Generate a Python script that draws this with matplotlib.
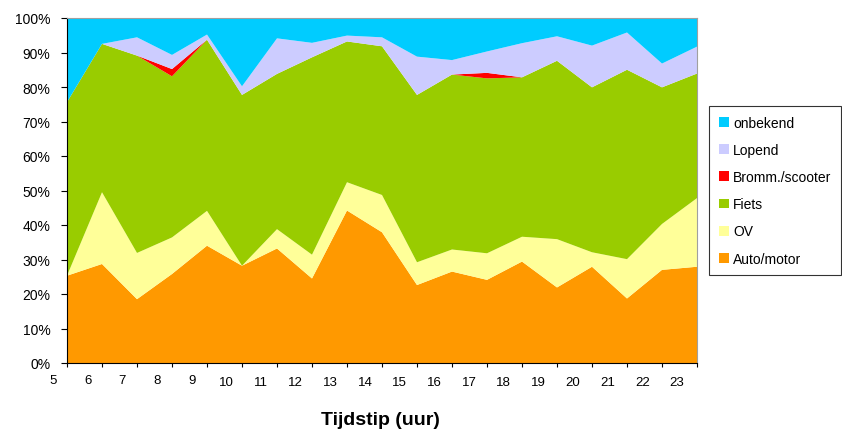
import matplotlib
matplotlib.use("Agg")
import matplotlib.pyplot as plt
import matplotlib.transforms as mtransforms
import numpy as np

plt.rcParams['font.family'] = ['Liberation Sans', 'DejaVu Sans']

hours = [5, 6, 7, 8, 9, 10, 11, 12, 13, 14, 15, 16, 17, 18, 19, 20, 21, 22, 23]
series_names = ["Auto/motor", "OV", "Fiets", "Bromm./scooter", "Lopend", "onbekend"]
auto = [25.3, 28.7, 18.5, 25.8, 34.0, 28.2, 33.2, 24.5, 44.2, 37.9, 22.6, 26.5, 24.1, 29.4, 21.9, 27.9, 18.7, 27.0, 27.9]
ov = [0.0, 20.8, 13.4, 10.6, 10.1, 0.0, 5.6, 6.9, 8.2, 10.8, 6.6, 6.4, 7.7, 7.2, 14.0, 4.2, 11.4, 13.3, 19.9]
fiets = [50.3, 43.0, 57.2, 46.7, 49.6, 49.5, 45.0, 57.2, 40.8, 43.1, 48.5, 50.7, 50.7, 46.2, 51.7, 47.8, 54.9, 39.6, 36.1]
bromm = [0.0, 0.0, 0.0, 2.1, 0.0, 0.0, 0.0, 0.0, 0.0, 0.0, 0.0, 0.0, 1.6, 0.0, 0.0, 0.0, 0.0, 0.0, 0.0]
lopend = [0.0, 0.0, 5.3, 4.1, 1.5, 2.5, 10.3, 4.2, 1.7, 2.6, 11.1, 4.2, 6.2, 9.9, 7.1, 12.1, 10.8, 6.9, 7.8]
onbekend = [24.4, 7.5, 5.6, 10.7, 4.8, 19.8, 5.9, 7.2, 5.1, 5.6, 11.2, 12.2, 9.7, 7.3, 5.3, 8.0, 4.2, 13.2, 8.3]
colors = ["#FF9900", "#FFFF99", "#99CC00", "#FF0000", "#CCCCFF", "#00CCFF"]

data = np.array([auto, ov, fiets, bromm, lopend, onbekend], dtype=float)
# normalise each hour to 100 %
data = data / data.sum(axis=0) * 100.0

W, H = 842, 435
fig = plt.figure(figsize=(W / 100, H / 100), dpi=100)
ax = fig.add_axes([67 / W, (H - 364) / H, 630 / W, 345 / H])

x = np.arange(len(hours))
polys = ax.stackplot(x, data, colors=colors, labels=series_names, linewidth=0)

ax.set_xlim(0, len(hours) - 1)
ax.set_ylim(0, 100)
ax.set_yticks(np.arange(0, 101, 10))
ax.set_yticklabels([f"{v}%" for v in range(0, 101, 10)], fontsize=10)
ax.tick_params(axis='y', direction='out', length=4, width=0.8, pad=8)
ax.set_xticks(x)
ax.set_xticklabels([])
ax.tick_params(axis='x', direction='out', length=3, width=0.8)

for side in ['top', 'right']:
    ax.spines[side].set_color('#A0A0A0')
    ax.spines[side].set_linewidth(0.8)
for side in ['left', 'bottom']:
    ax.spines[side].set_color('black')
    ax.spines[side].set_linewidth(0.8)

trans = mtransforms.blended_transform_factory(ax.transData, ax.transAxes)
for k, h in enumerate(hours):
    yy = -0.049 if h < 10 else -0.0565
    ax.text((k - 0.4) * 0.99, yy, str(h), transform=trans, ha='center', va='center', fontsize=9.5)

fig.text(380 / W, 1 - 421 / H, "Tijdstip (uur)", ha='center', va='center', fontsize=14, fontweight='bold')

handles, labels = ax.get_legend_handles_labels()
leg = fig.legend(handles[::-1], labels[::-1], loc='upper left',
                 bbox_to_anchor=(709 / W, 1 - 107 / H), fontsize=10,
                 frameon=True, fancybox=False, edgecolor='black',
                 handlelength=0.72, handleheight=0.72, handletextpad=0.3,
                 labelspacing=0.95, borderpad=0.7, borderaxespad=0)
leg.get_frame().set_linewidth(0.8)

fig.savefig("out.png", dpi=100)
